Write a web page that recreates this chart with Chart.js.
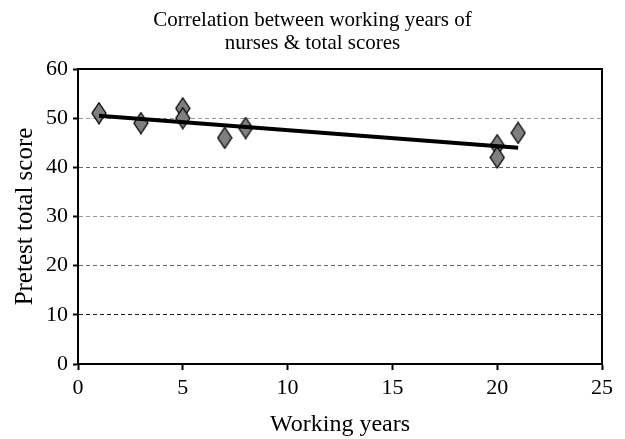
<!DOCTYPE html>
<html>
<head>
<meta charset="utf-8">
<script src="https://cdn.jsdelivr.net/npm/chart.js@4/dist/chart.umd.min.js"></script>
<style>
  html, body { margin: 0; padding: 0; background: #fff; }
  #wrap { width: 625px; height: 439px; }
</style>
</head>
<body>
<div id="wrap"><canvas id="chart"></canvas></div>
<script>
// values
const workingYears = [1, 3, 5, 5, 7, 8, 20, 20, 21];
const pretestScores = [51, 49, 52, 50, 46, 48, 44.5, 42, 47];
const trendX = [1, 21];
const trendY = [50.5, 44];
const yTicks = [0, 10, 20, 30, 40, 50, 60];
const xTicks = [0, 5, 10, 15, 20, 25];
const titleLines = ['Correlation between working years of', 'nurses & total scores'];

const serif = "'Liberation Serif', 'Times New Roman', serif";
const gridShade = { 10: '#222', 20: '#666', 30: '#999', 40: '#666', 50: '#999' };

// tall diamond marker
function diamond() {
    let c = document.createElement('canvas');
    c.width = 16; c.height = 23;
    let g = c.getContext('2d');
    g.beginPath();
    g.moveTo(8, 1); g.lineTo(15, 11.5); g.lineTo(8, 22); g.lineTo(1, 11.5);
    g.closePath();
    g.fillStyle = '#7f7f7f';
    g.fill();
    g.lineWidth = 1.3;
    g.strokeStyle = '#000';
    g.stroke();
    return c;
}

// box round the plot + title centred on the whole canvas
const frame = {
    id: 'frame',
    afterDraw(chart) {
        let a = chart.chartArea, ctx = chart.ctx;
        ctx.save();
        ctx.strokeStyle = '#000';
        ctx.lineWidth = 2;
        ctx.strokeRect(a.left, a.top, a.right - a.left, a.bottom - a.top);
        ctx.fillStyle = '#000';
        ctx.font = '21px ' + serif;
        ctx.textAlign = 'center';
        ctx.textBaseline = 'middle';
        titleLines.forEach((t, i) => ctx.fillText(t, chart.width / 2, 20 + i * 23));
        ctx.restore();
    }
};

new Chart(document.getElementById('chart'), {
    data: {
        datasets: [
            {
                type: 'line',
                data: trendX.map((x, i) => ({ x: x, y: trendY[i] })),
                borderColor: '#000',
                borderWidth: 4,
                pointRadius: 0,
                order: 0
            },
            {
                type: 'scatter',
                data: workingYears.map((x, i) => ({ x: x, y: pretestScores[i] })),
                pointStyle: diamond(),
                order: 1
            }
        ]
    },
    options: {
        responsive: true,
        maintainAspectRatio: false,
        animation: false,
        layout: { padding: { left: 0, right: 23, top: 69, bottom: 0 } },
        plugins: {
            legend: { display: false },
            tooltip: { enabled: false },
            title: { display: false }
        },
        scales: {
            x: {
                type: 'linear',
                min: 0, max: 25,
                afterBuildTicks: s => { s.ticks = xTicks.map(v => ({ value: v })); },
                afterFit: s => { s.height = 75; },
                grid: { drawOnChartArea: false, drawTicks: true, tickLength: 6, tickColor: '#000', tickWidth: 2 },
                border: { display: true, color: '#000', width: 2 },
                ticks: { color: '#000', font: { family: serif, size: 22 }, padding: 5 },
                title: { display: true, text: 'Working years', color: '#000', font: { family: serif, size: 24, lineHeight: 1.0 }, padding: { top: 0, bottom: 2 } }
            },
            y: {
                min: 0, max: 60,
                afterBuildTicks: s => { s.ticks = yTicks.map(v => ({ value: v })); },
                afterFit: s => { s.width = 78; },
                grid: {
                    color: c => gridShade[c.tick.value] || 'rgba(0,0,0,0)',
                    tickColor: '#000',
                    tickWidth: 2,
                    tickLength: 5,
                    tickBorderDash: [],
                    lineWidth: 1
                },
                border: { display: true, color: '#000', width: 2, dash: [4, 3] },
                ticks: { color: '#000', font: { family: serif, size: 22 }, padding: 5 },
                title: { display: true, text: 'Pretest total score', color: '#000', font: { family: serif, size: 25, lineHeight: 1.0 }, padding: { top: 13, bottom: 0 } }
            }
        }
    },
    plugins: [frame]
});
</script>
</body>
</html>
